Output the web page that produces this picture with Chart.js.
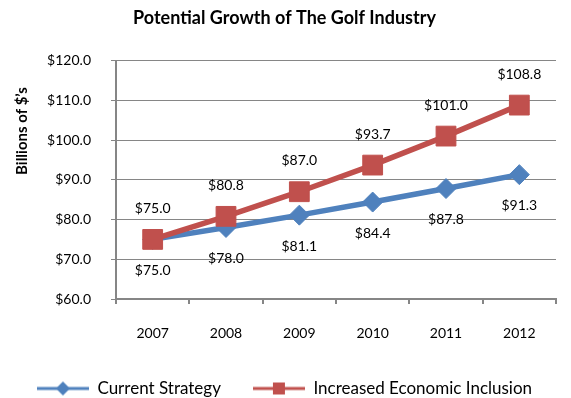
<!DOCTYPE html>
<html>
<head>
<meta charset="utf-8">
<script src="https://cdn.jsdelivr.net/npm/chart.js@4"></script>
<style>
  body { margin: 0; background: #fff; }
</style>
</head>
<body>
<canvas id="golf" width="571" height="398"></canvas>
<script>
const years = ['2007', '2008', '2009', '2010', '2011', '2012'];
const currentStrategy = [75.0, 78.0, 81.1, 84.4, 87.8, 91.3];
const economicInclusion = [75.0, 80.8, 87.0, 93.7, 101.0, 108.8];
const yTicks = [60, 70, 80, 90, 100, 110, 120];

const BLUE = '#4F81BD';
const RED = '#C0504D';
const GRID = '#868686';
const FONT = 'Lato';
const LEGEND_SIZE = 17;
const LEGEND_PAD = 32;
const PLOT_BOTTOM = 299;

// little line + marker swatch for the legend
function legendIcon(color, style) {
  const c = document.createElement('canvas');
  c.width = 52;
  c.height = 20;
  const ctx = c.getContext('2d');
  ctx.strokeStyle = color;
  ctx.lineWidth = 3;
  ctx.beginPath();
  ctx.moveTo(0, 10);
  ctx.lineTo(52, 10);
  ctx.stroke();
  ctx.fillStyle = color;
  if (style === 'diamond') {
    ctx.beginPath();
    ctx.moveTo(26, 3);
    ctx.lineTo(33, 10);
    ctx.lineTo(26, 17);
    ctx.lineTo(19, 10);
    ctx.closePath();
    ctx.fill();
  } else {
    ctx.fillRect(20, 4, 12, 12);
  }
  return c;
}

// "$xx.x" over / under every point
const valueLabels = {
  id: 'valueLabels',
  afterDatasetsDraw(chart) {
    const ctx = chart.ctx;
    ctx.save();
    ctx.font = '14px ' + FONT;
    ctx.fillStyle = '#000';
    ctx.textAlign = 'center';
    ctx.textBaseline = 'middle';
    chart.data.datasets.forEach((ds, i) => {
      chart.getDatasetMeta(i).data.forEach((pt, j) => {
        ctx.fillText('$' + ds.data[j].toFixed(1), pt.x, pt.y + ds.labelOffset);
      });
    });
    ctx.restore();
  }
};

// y axis caption sits high, above the middle of the axis
const yCaption = {
  id: 'yCaption',
  afterDraw(chart) {
    const ctx = chart.ctx;
    ctx.save();
    ctx.fillStyle = '#000';
    ctx.textAlign = 'center';
    ctx.textBaseline = 'middle';
    ctx.translate(22, 131);
    ctx.rotate(-Math.PI / 2);
    ctx.font = 'bold 15px ' + FONT;
    ctx.fillText('Billions of $\u2019s', 0, 0);
    ctx.restore();
  }
};

// drop the legend row lower and give the year labels room below the axis box
const layoutTweaks = {
  id: 'layoutTweaks',
  afterLayout(chart) {
    chart.legend.top += 9;
    chart.legend.bottom += 9;
    chart.scales.x.bottom = chart.height;
  }
};

const chart = new Chart(document.getElementById('golf'), {
  type: 'line',
  data: {
    labels: years,
    datasets: [
      {
        label: 'Current Strategy',
        data: currentStrategy,
        borderColor: BLUE,
        backgroundColor: BLUE,
        borderWidth: 5.5,
        pointStyle: 'rectRot',
        pointRadius: 10,
        pointBorderWidth: 1,
        order: 1,
        labelOffset: 31,
        icon: legendIcon(BLUE, 'diamond')
      },
      {
        label: 'Increased Economic Inclusion',
        data: economicInclusion,
        borderColor: RED,
        backgroundColor: RED,
        borderWidth: 5.5,
        pointStyle: 'rect',
        pointRadius: 14,
        pointBorderWidth: 1,
        order: 0,
        labelOffset: -31,
        icon: legendIcon(RED, 'square')
      }
    ]
  },
  options: {
    responsive: false,
    animation: false,
    events: [],
    layout: { padding: { top: 0, right: 2, left: 0, bottom: 0 } },
    plugins: {
      title: {
        display: true,
        text: 'Potential Growth of The Golf Industry',
        color: '#000',
        font: { family: FONT, size: 18, weight: 'bold' },
        padding: { top: 7, bottom: 32 }
      },
      tooltip: { enabled: false },
      legend: {
        position: 'bottom',
        labels: {
          usePointStyle: true,
          pointStyleWidth: 52,
          padding: LEGEND_PAD,
          color: '#000',
          font: { family: FONT, size: LEGEND_SIZE },
          sort: (a, b) => a.datasetIndex - b.datasetIndex,
          generateLabels(chart) {
            const items = Chart.defaults.plugins.legend.labels.generateLabels(chart);
            items.forEach(item => {
              item.pointStyle = chart.data.datasets[item.datasetIndex].icon;
            });
            return items;
          }
        }
      }
    },
    scales: {
      x: {
        offset: true,
        grid: {
          offset: true,
          drawOnChartArea: false,
          tickLength: 5,
          color: GRID,
          lineWidth: 2
        },
        border: { color: GRID, width: 2 },
        ticks: {
          padding: 21,
          maxRotation: 0,
          color: '#000',
          font: { family: FONT, size: 14 }
        },
        afterFit(scale) {
          scale.height = 398 - PLOT_BOTTOM - (LEGEND_SIZE + LEGEND_PAD + 10);
        }
      },
      y: {
        min: 60,
        max: 120,
        afterBuildTicks(scale) {
          scale.ticks = yTicks.map(v => ({ value: v }));
        },
        grid: { color: GRID, lineWidth: 1, tickLength: 5 },
        border: { color: GRID, width: 2 },
        ticks: {
          padding: 20,
          color: '#000',
          font: { family: FONT, size: 14 },
          callback: v => '$' + v.toFixed(1)
        },
        afterFit(scale) {
          scale.width = 116;
        }
      }
    }
  },
  plugins: [valueLabels, yCaption, layoutTweaks]
});
</script>
</body>
</html>
